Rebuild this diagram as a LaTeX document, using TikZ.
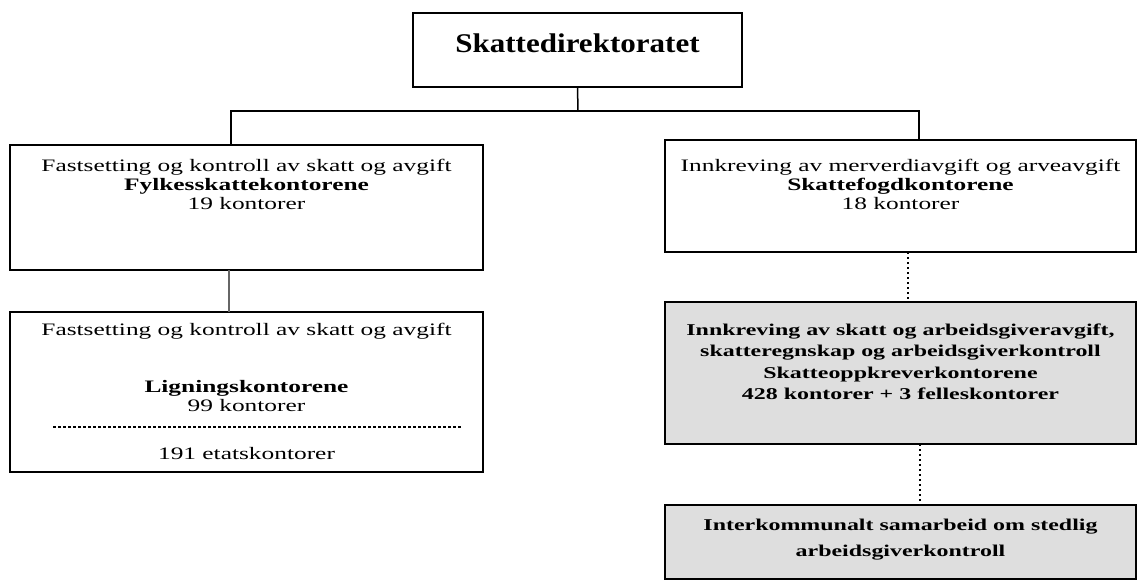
\documentclass[tikz,border=0pt]{standalone}
\usepackage{fontspec}
\setmainfont[FakeStretch=1.45]{Liberation Serif}
\newfontfamily\titlefont[FakeStretch=1.15]{Liberation Serif}
\usetikzlibrary{calc}
\tikzset{
  box/.style={draw=black, line width=1.7pt, inner sep=0pt, outer sep=0pt},
  graybox/.style={box, fill=black!13},
  txt/.style={align=center, inner sep=0pt, font=\fontsize{17.5}{19}\selectfont},
  conn/.style={draw=black, line width=1.5pt},
  grayconn/.style={draw=black!60, line width=2.2pt},
  dotconn/.style={draw=black, line width=1.3pt, dash pattern=on 1.5pt off 3.5pt},
  sep/.style={draw=black, line width=1.3pt, dash pattern=on 3pt off 2pt}
}
\begin{document}
\begin{tikzpicture}[x=1pt,y=-1pt]
\useasboundingbox (0,0) rectangle (1139,582);
% boxes
\node[box, minimum width=329pt, minimum height=74pt] (dir) at (577.5,50) {};
\node[box, minimum width=473pt, minimum height=125pt] (fylke) at (246.5,207.5) {};
\node[box, minimum width=473pt, minimum height=160pt] (lign) at (246.5,392) {};
\node[box, minimum width=471pt, minimum height=112pt] (fogd) at (900.5,196) {};
\node[graybox, minimum width=471pt, minimum height=142pt] (oppkr) at (900.5,373) {};
\node[graybox, minimum width=471pt, minimum height=74pt] (inter) at (900.5,542) {};
% texts
\node[inner sep=0pt, font=\titlefont\fontsize{27}{30}\selectfont\bfseries] (tdir) at (577.5,43) {Skattedirektoratet};
\node[txt] (tfylke) at (246.5,184) {Fastsetting og kontroll av skatt og avgift\\\textbf{Fylkesskattekontorene}\\19 kontorer};
\node[txt] (tlign1) at (246.5,331) {Fastsetting og kontroll av skatt og avgift};
\node[txt] (tlign2) at (246.5,396) {\textbf{Ligningskontorene}\\99 kontorer};
\node[txt] (tlign3) at (246.5,454) {191 etatskontorer};
\node[txt] (tfogd) at (900.5,184) {Innkreving av merverdiavgift og arveavgift\\\textbf{Skattefogdkontorene}\\18 kontorer};
\node[txt, font=\fontsize{16.5}{21.5}\selectfont\bfseries] (toppkr) at (900.5,362) {Innkreving av skatt og arbeidsgiveravgift,\\skatteregnskap og arbeidsgiverkontroll\\Skatteoppkreverkontorene\\428 kontorer + 3 felleskontorer};
\node[txt, font=\fontsize{16.5}{26}\selectfont\bfseries] (tinter) at (900.5,540) {Interkommunalt samarbeid om stedlig\\arbeidsgiverkontroll};
% separator in lign box
\coordinate (sepL) at (53,427);
\coordinate (sepR) at (462,427);
\draw[sep] (sepL) -- (sepR);
% connectors
\coordinate (hub) at (578,111);
\draw[conn] (dir.south) -- (hub);
\draw[conn] (hub) -| ([xshift=-15.5pt]fylke.north);
\draw[conn] (hub) -| ([xshift=18.5pt]fogd.north);
\draw[grayconn] ([xshift=-17.5pt]fylke.south) -- ([xshift=-17.5pt]lign.north);
\draw[dotconn] ([xshift=7.5pt]fogd.south) -- ([xshift=7.5pt]oppkr.north);
\draw[dotconn] ([xshift=19.5pt]oppkr.south) -- ([xshift=19.5pt]inter.north);
\end{tikzpicture}
\end{document}
